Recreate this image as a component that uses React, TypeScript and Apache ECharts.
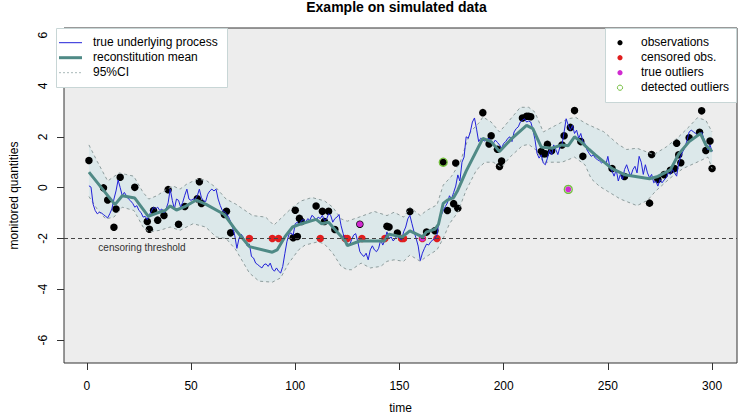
import React, { useEffect, useRef } from 'react';
import * as echarts from 'echarts';

const FONT = '"Liberation Sans", Arial, Helvetica, sans-serif';

// ---- data ----
const xTicks = [0, 50, 100, 150, 200, 250, 300];
const yTicks = [-6, -4, -2, 0, 2, 4, 6];
const censoringThreshold = -2;

// true underlying process, t = 1..300
const trueValue = [
  0.07, 0.02, -0.65, -0.9, -1.03, -0.97, -1.0, -1.06, -1.13, -1.19,
  -1.03, -0.84, -0.45, -0.13, 0.3, 0.0, -0.32, -0.19, -0.32, -0.45,
  -0.52, -0.62, -0.77, -0.71, -0.9, -0.98, -1.16, -1.13, -1.26, -1.06,
  -0.93, -0.77, -0.84, -0.77, -0.9, -0.84, -1.0, -0.84, -0.6, -0.06,
  -0.5, -0.84, -0.45, -0.5, -0.77, -0.58, -0.3, -0.06, -0.45, -0.5,
  -0.45, -0.45, -0.32, -0.06, -0.4, -0.52, -0.55, -0.26, -0.13, -0.06,
  -0.13, -0.06, -0.45, -0.7, -0.9, -0.95, -1.03, -1.15, -1.35, -1.6,
  -1.9, -2.39, -2.0, -1.83, -1.94, -2.13, -2.3, -2.22, -2.71, -2.77,
  -2.97, -3.03, -3.1, -3.16, -3.03, -3.0, -3.1, -2.97, -3.2, -3.29,
  -3.16, -3.29, -3.36, -3.1, -2.6, -2.13, -1.83, -1.78, -1.87, -1.42,
  -1.36, -1.48, -1.29, -1.26, -1.36, -1.22, -1.29, -1.09, -1.16, -1.29,
  -1.16, -1.22, -1.09, -1.29, -1.25, -1.03, -1.09, -1.36, -1.22, -1.16,
  -1.06, -1.5, -1.81, -2.13, -2.19, -2.26, -2.06, -1.87, -1.81, -2.13,
  -2.52, -2.64, -2.71, -2.58, -2.84, -2.45, -2.29, -2.45, -2.52, -2.39,
  -2.06, -2.26, -2.06, -1.74, -2.0, -1.94, -2.1, -2.0, -1.87, -2.0,
  -2.06, -1.74, -1.55, -1.23, -1.09, -1.42, -1.74, -2.0, -2.3, -2.87,
  -2.58, -2.39, -2.22, -2.26, -2.13, -2.06, -2.0, -1.87, -1.3, -1.1,
  -0.9, -0.75, -0.6, -0.32, -0.45, -0.19, 0.06, 0.5, 0.26, 1.0,
  1.2, 2.0, 1.94, 2.19, 2.58, 2.74, 2.3, 1.81, 1.94, 1.87,
  1.83, 1.9, 1.94, 1.8, 1.74, 1.87, 1.78, 1.68, 1.55, 1.74,
  1.81, 1.94, 2.0, 1.81, 2.19, 2.32, 2.39, 2.58, 2.65, 2.71,
  2.58, 2.62, 2.58, 2.3, 1.9, 1.35, 1.16, 1.29, 0.97, 0.9,
  1.16, 1.48, 1.29, 1.68, 1.5, 1.3, 1.6, 1.7, 2.19, 2.71,
  2.45, 2.26, 2.45, 2.13, 2.26, 1.94, 2.13, 1.81, 1.74, 1.48,
  1.35, 1.23, 1.29, 1.16, 1.1, 1.05, 0.97, 1.03, 0.9, 1.23,
  0.77, 0.65, 0.45, 0.71, 0.26, 0.52, 0.32, 0.71, 0.9, 0.65,
  0.45, 0.71, 0.84, 0.58, 1.23, 1.0, 0.52, 0.9, 0.58, 0.39,
  0.52, 0.19, 0.26, 0.06, 0.32, 0.19, 0.3, 0.39, 0.58, 0.52,
  0.71, 0.58, 0.45, 0.97, 1.23, 1.42, 1.58, 1.87, 2.19, 2.26,
  2.2, 2.13, 2.06, 2.1, 2.19, 1.94, 1.74, 1.48, 1.68, 1.42,
];

// reconstitution mean
const meanTime = [1, 13.5, 17, 23, 29.5, 33.6, 37.6, 40, 43, 47, 52.5, 57, 66, 71.5, 78, 89, 91.3, 95, 98.7, 103,
  110, 112.7, 116, 120, 124, 125, 131, 142.7, 145, 149, 151.4, 155, 161, 163, 167, 168.7, 171, 173, 176, 178,
  182, 190, 194, 198, 204, 211, 214, 218, 223, 228, 231, 234, 237, 241, 244, 252, 258, 270, 274, 280,
  284, 289, 294.4, 297, 300];
const meanValue = [0.61, -0.67, -0.32, -0.41, -1.13, -1.0, -0.9, -0.72, -0.88, -0.75, -0.49, -0.65, -1.06, -1.68, -2.32, -2.54, -2.45, -1.94, -1.55, -1.42,
  -1.25, -1.42, -1.36, -1.74, -2.1, -2.28, -2.1, -2.1, -1.83, -1.9, -1.94, -1.7, -1.94, -1.74, -1.64, -1.45, -0.62, -0.49, -0.39, -0.1,
  0.65, 1.94, 1.81, 1.42, 1.94, 2.45, 2.32, 1.6, 1.55, 1.68, 1.65, 2.0, 1.81, 1.5, 1.29, 0.75, 0.51, 0.35, 0.44, 0.7,
  1.32, 1.81, 2.13, 1.68, 1.42];

// 95% CI
const ciUpperTime = [1, 5, 10, 15.5, 18.6, 22.5, 27, 29.7, 33.6, 38.4, 41.5, 44.7, 47.8, 52.6, 57, 62, 66.8, 71.5, 79.5, 85.8,
  89.7, 94.5, 98.7, 103, 108, 114, 118, 122, 125, 130, 138, 144, 147.4, 152, 155, 160, 163, 168, 171, 175,
  179, 184, 188.5, 190, 194, 198, 202.7, 208, 212, 215, 219, 225, 231, 234.6, 240, 248, 255, 259, 264, 272,
  278, 284, 289, 293, 297, 300];
const ciUpperValue = [1.68, 1.03, 0.26, 0.58, 0.52, 0.45, -0.19, -0.45, -0.32, -0.06, 0.06, -0.06, 0.13, 0.32, 0.3, 0.0, -0.45, -0.65, -1.1, -1.16,
  -1.48, -1.1, -0.77, -0.52, -0.39, -0.52, -0.77, -1.23, -1.32, -1.18, -0.94, -1.1, -0.97, -1.16, -0.77, -1.1, -0.9, -0.68, 0.1, 0.45,
  0.97, 2.19, 2.58, 2.78, 2.58, 2.19, 2.64, 3.16, 3.16, 2.97, 2.19, 2.45, 2.71, 2.76, 2.5, 2.2, 1.7, 1.5, 1.55, 1.3,
  1.6, 2.0, 2.4, 2.75, 2.65, 2.19];
const ciLowerTime = [1, 5, 9, 13, 17, 22.6, 27, 29.7, 35, 40, 44.7, 51, 57, 62, 66.8, 71.5, 78, 82.6, 89, 93,
  96.9, 101.6, 104.7, 111, 114, 118, 122, 125, 127, 131.6, 136, 141, 144, 147.4, 152, 155, 160, 163, 168, 171,
  174, 178, 182, 187, 191, 195, 199, 203, 209, 212, 216, 219, 224, 228, 234, 239, 242, 246, 250, 256,
  264, 269, 273, 280, 286, 292, 298, 300];
const ciLowerValue = [-0.35, -0.85, -1.23, -1.16, -0.77, -0.9, -1.55, -1.74, -1.68, -1.55, -1.68, -1.42, -1.55, -1.94, -2.0, -2.45, -3.36, -3.68, -3.72, -3.55,
  -2.97, -2.45, -2.26, -2.13, -2.22, -2.58, -3.1, -3.23, -3.23, -2.97, -3.16, -3.1, -2.9, -2.84, -2.9, -2.65, -2.9, -2.71, -2.45, -2.0,
  -1.42, -0.97, -0.1, 0.7, 1.0, 1.0, 0.8, 1.2, 1.65, 1.7, 1.45, 1.0, 1.0, 1.0, 1.2, 0.9, 0.35, 0.05, -0.15, -0.45,
  -0.71, -0.5, -0.13, 0.38, 0.75, 0.97, 1.2, 0.75];

// observations
const obsTime = [1, 8, 10, 13, 14, 16, 23, 29, 30, 32, 34, 37, 39, 44, 47, 53, 54, 55, 66, 67,
  69, 99, 100, 101, 102, 103, 110, 113, 114, 116, 119, 131, 144, 145, 149, 155, 163, 167, 171, 173,
  176, 177, 178, 190, 193, 194, 197, 198, 199, 209, 211, 212, 213, 218, 219, 220, 221, 223, 228, 229,
  232, 234, 237, 238, 252, 258, 270, 271, 274, 277, 280, 282, 283, 284, 285, 289, 294, 295, 297, 299, 300];
const obsValue = [1.07, -0.01, -0.49, -1.56, -0.84, 0.41, 0.01, -1.33, -1.64, -0.9, -1.28, -1.1, -0.08, -1.44, -0.74, -0.44, 0.23, -0.62, -1.06, -0.93,
  -1.78, -1.97, -0.89, -1.92, -1.21, -1.33, -0.72, -0.93, -1.33, -0.93, -1.65, -1.44, -1.52, -1.55, -1.79, -0.94, -1.75, -1.7, 1.0, -0.9,
  -0.63, 0.97, -0.81, 2.95, 1.72, 2.04, 1.51, 0.83, 1.05, 2.74, 2.81, 2.81, 2.79, 1.42, 1.33, 1.33, 1.7, 1.45, 1.68, 2.04,
  2.37, 3.03, 1.81, 1.23, 0.75, 0.44, -0.61, 1.3, 0.32, 0.51, 0.68, 0.75, 1.75, 1.29, 0.98, 1.96, 2.18, 3.02, 1.46, 1.83, 0.75];

// censored observations (drawn at the threshold)
const censTime = [78, 89, 92, 112, 124, 125, 132, 143, 151, 152, 161, 168];

// true outliers and detected outliers
const outTime = [131, 161, 231];
const outValue = [-1.44, -2.0, -0.07];
const detTime = [171, 231];
const detValue = [1.0, -0.07];

// ---- colors ----
const C_BLUE = '#2222D8';
const C_MEAN = '#4F8A86';
const C_CI = '#8E9C9C';
const C_FILL = '#DCE8EA';
const C_RED = '#E01E1E';
const C_MAG = '#D02AD0';
const C_GREEN = '#72BE3C';

const zip = (a: number[], b: number[]) => a.map((t, i) => [t, b[i]]);

export default function App() {
  const ref = useRef<HTMLDivElement>(null);
  useEffect(() => {
    const chart = echarts.init(ref.current!, null, { renderer: 'svg' });
    const trueData = trueValue.map((v, i) => [i + 1, v]);
    const txt = (text: string, x: number, y: number, extra: any = {}) => ({
      type: 'text',
      x, y, z: 100,
      style: { text, fontSize: 12, fontFamily: FONT, fill: '#000', textVerticalAlign: 'middle', textAlign: 'left', ...extra },
    });
    const rowY = [42.7, 57.7, 72.7, 87.7];
    const textDy = -1;
    const option: any = {
      animation: false,
      backgroundColor: '#ffffff',
      grid: {
        left: 56, top: 28, right: 1, bottom: 50.7,
        show: true, backgroundColor: '#EDEDED', borderColor: '#333', borderWidth: 1,
      },
      xAxis: {
        type: 'value', min: -10.96, max: 311.96,
        splitLine: { show: false },
        axisLine: { show: false, onZero: false },
        axisTick: { show: true, length: 7, customValues: xTicks, lineStyle: { color: '#333' } },
        axisLabel: { customValues: xTicks, margin: 17, fontSize: 12, color: '#000', fontFamily: FONT },
        name: 'time', nameLocation: 'middle', nameGap: 39,
        nameTextStyle: { fontSize: 12, color: '#000', fontFamily: FONT },
      },
      yAxis: {
        type: 'value', min: -6.9, max: 6.28,
        splitLine: { show: false },
        axisLine: { show: false, onZero: false },
        axisTick: { show: true, length: 7, customValues: yTicks, lineStyle: { color: '#333' } },
        axisLabel: { customValues: yTicks, rotate: 90, margin: 15, fontSize: 12, color: '#000', fontFamily: FONT },
        name: 'monitored quantities', nameLocation: 'middle', nameGap: 44, nameRotate: 90,
        nameTextStyle: { fontSize: 12, color: '#000', fontFamily: FONT },
      },
      series: [
        {
          type: 'custom', coordinateSystem: 'cartesian2d', silent: true,
          data: [[0, 0]],
          renderItem: (_p: any, api: any) => {
            const pts: number[][] = [];
            for (let i = 0; i < ciUpperTime.length; i++) pts.push(api.coord([ciUpperTime[i], ciUpperValue[i]]));
            for (let i = ciLowerTime.length - 1; i >= 0; i--) pts.push(api.coord([ciLowerTime[i], ciLowerValue[i]]));
            return { type: 'polygon', shape: { points: pts }, style: { fill: C_FILL } };
          },
        },
        {
          type: 'line', data: zip(ciUpperTime, ciUpperValue), symbol: 'none', silent: true,
          lineStyle: { color: C_CI, width: 1, type: [3, 3] },
        },
        {
          type: 'line', data: zip(ciLowerTime, ciLowerValue), symbol: 'none', silent: true,
          lineStyle: { color: C_CI, width: 1, type: [3, 3] },
        },
        {
          type: 'line', data: trueData, symbol: 'none', silent: true,
          lineStyle: { color: C_BLUE, width: 1 },
        },
        {
          type: 'line', data: zip(meanTime, meanValue), symbol: 'none', silent: true,
          lineStyle: { color: C_MEAN, width: 3 },
          markLine: {
            silent: true, symbol: 'none', label: { show: false },
            lineStyle: { color: '#444', width: 1, type: [4, 3] },
            data: [{ yAxis: censoringThreshold }],
          },
        },
        {
          type: 'scatter', data: zip(obsTime, obsValue), symbol: 'circle', symbolSize: 7.5, silent: true,
          itemStyle: { color: '#000', opacity: 1 },
        },
        {
          type: 'scatter', data: censTime.map((t) => [t, censoringThreshold]), symbol: 'circle', symbolSize: 7.5, silent: true,
          itemStyle: { color: C_RED, opacity: 1 },
        },
        {
          type: 'scatter', data: zip(outTime, outValue), symbol: 'circle', symbolSize: 6, silent: true,
          itemStyle: { color: C_MAG, opacity: 1 },
        },
        {
          type: 'scatter', data: zip(detTime, detValue), symbol: 'circle', symbolSize: 8, silent: true,
          itemStyle: { color: 'rgba(0,0,0,0)', borderColor: C_GREEN, borderWidth: 1.3, opacity: 1 },
        },
      ],
      graphic: [
        txt('Example on simulated data', 396.5, 7, { fontSize: 14, fontWeight: 'bold', textAlign: 'center' }),
        txt('censoring threshold', 142, 247, { fontSize: 10, fill: '#333', textAlign: 'center' }),
        // left legend
        { type: 'rect', z: 99, shape: { x: 56.5, y: 28.5, width: 171, height: 59 }, style: { fill: '#fff', stroke: '#C8D6D6', lineWidth: 1 } },
        { type: 'line', z: 100, shape: { x1: 59, y1: rowY[0], x2: 82, y2: rowY[0] }, style: { stroke: C_BLUE, lineWidth: 1 } },
        { type: 'line', z: 100, shape: { x1: 59, y1: rowY[1], x2: 82, y2: rowY[1] }, style: { stroke: C_MEAN, lineWidth: 3 } },
        { type: 'line', z: 100, shape: { x1: 59, y1: rowY[2], x2: 82, y2: rowY[2] }, style: { stroke: '#A8B8B8', lineWidth: 1, lineDash: [2, 2] } },
        txt('true underlying process', 93, rowY[0] + textDy),
        txt('reconstitution mean', 93, rowY[1] + textDy),
        txt('95%CI', 93, rowY[2] + textDy),
        // right legend
        { type: 'rect', z: 99, shape: { x: 605.5, y: 28.5, width: 131, height: 74 }, style: { fill: '#fff', stroke: '#C8D6D6', lineWidth: 1 } },
        { type: 'circle', z: 100, shape: { cx: 620, cy: rowY[0], r: 2.6 }, style: { fill: '#000' } },
        { type: 'circle', z: 100, shape: { cx: 620, cy: rowY[1], r: 2.6 }, style: { fill: C_RED } },
        { type: 'circle', z: 100, shape: { cx: 620, cy: rowY[2], r: 2.6 }, style: { fill: C_MAG } },
        { type: 'circle', z: 100, shape: { cx: 620, cy: rowY[3], r: 2.6 }, style: { fill: 'none', stroke: C_GREEN, lineWidth: 1 } },
        txt('observations', 641, rowY[0] + textDy),
        txt('censored obs.', 641, rowY[1] + textDy),
        txt('true outliers', 641, rowY[2] + textDy),
        txt('detected outliers', 641, rowY[3] + textDy),
      ],
    };
    chart.setOption(option);
    return () => chart.dispose();
  }, []);
  return (
    <div
      ref={ref}
      style={{ position: 'fixed', left: 0, top: 0, width: 738, height: 419, background: '#fff' }}
    />
  );
}
